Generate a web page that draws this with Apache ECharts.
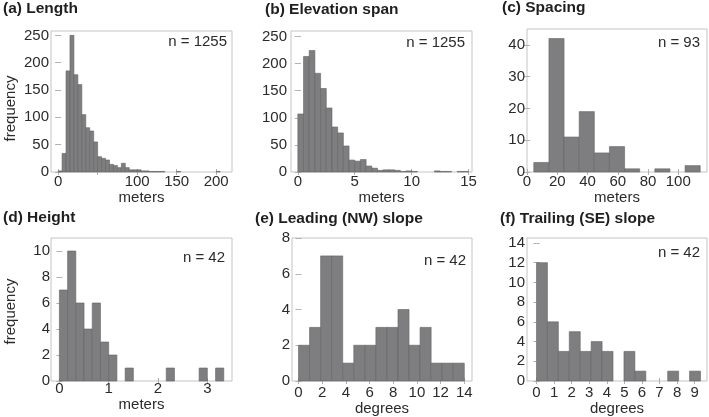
<!DOCTYPE html>
<html><head><meta charset="utf-8">
<script src="https://cdn.jsdelivr.net/npm/echarts@6/dist/echarts.min.js"></script>
<style>html,body{margin:0;padding:0;background:#fff}#c{width:709px;height:417px}</style>
</head><body><div id="c"></div>
<script>
// ---- data ----
const lengthBinStart = 0, lengthBinWidth = 5;
const lengthCounts = [2,34,185,250,178,160,105,81,75,55,28,25,22,14,12,8,16,8,4,4,4,2,2,1,1,1,1,0,0,0,1,0,0,0,0,0,0,0,0,0,1];
const elevBinStart = 0, elevBinWidth = 0.5;
const elevCounts = [107,213,224,182,154,118,83,72,48,22,20,23,11,7,3,4,4,3,1,2,1,0,0,0,2,1,1,0,1,1];
const spacingBinStart = 4.5, spacingBinWidth = 10;
const spacingCounts = [3,42,11,19,6,8,1,0,1,0,2];
const heightBinStart = 0, heightBinWidth = 1/6;
const heightCounts = [7,10,6,4,6,3,2,0,1,0,0,0,0,1,0,0,0,1,0,1];
const leadBinStart = 0, leadBinWidth = 14/15;
const leadCounts = [2,3,7,7,1,2,2,3,3,4,2,3,1,1,1];
const trailBinStart = 0, trailBinWidth = 0.622;
const trailCounts = [12,6,3,5,3,4,3,0,3,1,0,0,1,0,1];

const lengthXTicks = [0,50,100,150,200], lengthXLabels = [0,100,150,200];
const lengthYTicks = [0,50,100,150,200,250];
const elevXTicks = [0,5,10,15], elevYTicks = [0,50,100,150,200,250];
const spacingXTicks = [0,20,40,60,80,100], spacingYTicks = [0,10,20,30,40];
const heightXTicks = [0,1,2,3], heightYTicks = [0,2,4,6,8,10];
const leadXTicks = [0,2,4,6,8,10,12,14], leadYTicks = [0,2,4,6,8];
const trailXTicks = [0,1,2,3,4,5,6,7,8,9], trailYTicks = [0,2,4,6,8,10,12,14];

const titles = ['(a) Length','(b) Elevation span','(c) Spacing','(d) Height','(e) Leading (NW) slope','(f) Trailing (SE) slope'];
const nLabels = ['n = 1255','n = 1255','n = 93','n = 42','n = 42','n = 42'];
const xNames = ['meters','meters','meters','meters','degrees','degrees'];

// ---- layout ----
const panels = [
  {start:lengthBinStart,width:lengthBinWidth,counts:lengthCounts,xTicks:lengthXTicks,xLabels:lengthXLabels,yTicks:lengthYTicks,
   xMin:-9,xMax:220,yMax:258,grid:{left:51,top:31,width:181,height:141},title:[3,10],n:[227,42],lblM:2,nameGap:18,ylM:2,yName:'frequency',yPad:[0,14,0,0]},
  {start:elevBinStart,width:elevBinWidth,counts:elevCounts,xTicks:elevXTicks,xLabels:elevXTicks,yTicks:elevYTicks,
   xMin:-0.6,xMax:15.3,yMax:260,grid:{left:291,top:31,width:181,height:141},title:[265,10.5],n:[465,43],lblM:2,nameGap:18,ylM:4},
  {start:spacingBinStart,width:spacingBinWidth,counts:spacingCounts,xTicks:spacingXTicks,xLabels:spacingXTicks,yTicks:spacingYTicks,
   xMin:0,xMax:119,yMax:45,grid:{left:527,top:29,width:180,height:143},title:[502,9],n:[700,42.5],lblM:2,nameGap:18,ylM:2},
  {start:heightBinStart,width:heightBinWidth,counts:heightCounts,xTicks:heightXTicks,xLabels:heightXTicks,yTicks:heightYTicks,
   xMin:-0.17,xMax:3.5,yMax:11,grid:{left:51,top:238,width:181,height:143},title:[3,219],n:[225,258],lblM:0,nameGap:11,ylM:1,yName:'frequency',yPad:[0,4,0,0]},
  {start:leadBinStart,width:leadBinWidth,counts:leadCounts,xTicks:leadXTicks,xLabels:leadXTicks,yTicks:leadYTicks,
   xMin:-0.55,xMax:14.65,yMax:8,grid:{left:292,top:238,width:180,height:143},title:[255,220],n:[466,261],lblM:4,nameGap:18,ylM:2},
  {start:trailBinStart,width:trailBinWidth,counts:trailCounts,xTicks:trailXTicks,xLabels:trailXTicks,yTicks:trailYTicks,
   xMin:-0.54,xMax:9.7,yMax:14.5,grid:{left:527,top:238,width:180,height:143},title:[500,220],n:[700,253],lblM:4,nameGap:18,ylM:2}
];

const FONT = '"Liberation Sans", Arial, Helvetica, sans-serif';
const TXT = '#2b2b2b';
const FRAME = '#c4c4c4';
const TICK = '#b0b0b0';

const grid = [], xAxis = [], yAxis = [], series = [], graphic = [];
panels.forEach((p, i) => {
  grid.push(Object.assign({show:true, borderColor:FRAME, borderWidth:1, backgroundColor:'#fff', containLabel:false}, p.grid));
  const tickStyle = {show:true, inside:true, length:3, lineStyle:{color:TICK, width:1}};
  xAxis.push({type:'value', gridIndex:i, position:'bottom', min:p.xMin, max:p.xMax,
    axisLine:{show:false}, splitLine:{show:false},
    axisTick:Object.assign({customValues:p.xTicks}, tickStyle),
    axisLabel:{customValues:p.xLabels, color:TXT, fontFamily:FONT, fontSize:15, margin:p.lblM, hideOverlap:false},
    name:xNames[i], nameLocation:'middle', nameGap:p.nameGap,
    nameTextStyle:{color:TXT, fontFamily:FONT, fontSize:15}});
  xAxis.push({type:'value', gridIndex:i, position:'top', min:p.xMin, max:p.xMax,
    axisLine:{show:false}, splitLine:{show:false}, axisLabel:{show:false},
    axisTick:Object.assign({customValues:p.xTicks}, tickStyle)});
  yAxis.push({type:'value', gridIndex:i, position:'left', min:0, max:p.yMax,
    axisLine:{show:false}, splitLine:{show:false},
    axisTick:Object.assign({customValues:p.yTicks}, tickStyle),
    axisLabel:{customValues:p.yTicks, color:TXT, fontFamily:FONT, fontSize:15, margin:p.ylM},
    name:p.yName || '', nameLocation:'middle', nameGap:33,
    nameTextStyle:{color:TXT, fontFamily:FONT, fontSize:15, padding:p.yPad || 0}});
  yAxis.push({type:'value', gridIndex:i, position:'right', min:0, max:p.yMax,
    axisLine:{show:false}, splitLine:{show:false}, axisLabel:{show:false},
    axisTick:Object.assign({customValues:p.yTicks}, tickStyle)});

  const data = [];
  p.counts.forEach((c, k) => {
    if (c > 0) data.push([p.start + k*p.width, p.start + (k+1)*p.width, c]);
  });
  series.push({
    type:'custom', xAxisIndex:2*i, yAxisIndex:2*i, data:data,
    encode:{x:[0,1], y:2}, silent:true,
    renderItem:(params, api) => {
      const a = api.coord([api.value(0), api.value(2)]);
      const b = api.coord([api.value(1), 0]);
      return {type:'rect', shape:{x:a[0], y:a[1], width:b[0]-a[0], height:b[1]-a[1]},
        style:{fill:'#7e7e80', stroke:'#636363', lineWidth:0.6}};
    }
  });

  graphic.push({type:'text', left:p.title[0], top:p.title[1]-9, silent:true,
    style:{text:titles[i], font:'bold 15.5px ' + FONT, fill:'#1f1f1f'}});
  graphic.push({type:'text', x:p.n[0], y:p.n[1], silent:true,
    style:{text:nLabels[i], font:'15px ' + FONT, fill:TXT, align:'right', verticalAlign:'middle'}});
});

const chart = echarts.init(document.getElementById('c'), null, {renderer:'canvas'});
chart.setOption({animation:false, backgroundColor:'#fff', grid, xAxis, yAxis, series, graphic});
</script></body></html>
